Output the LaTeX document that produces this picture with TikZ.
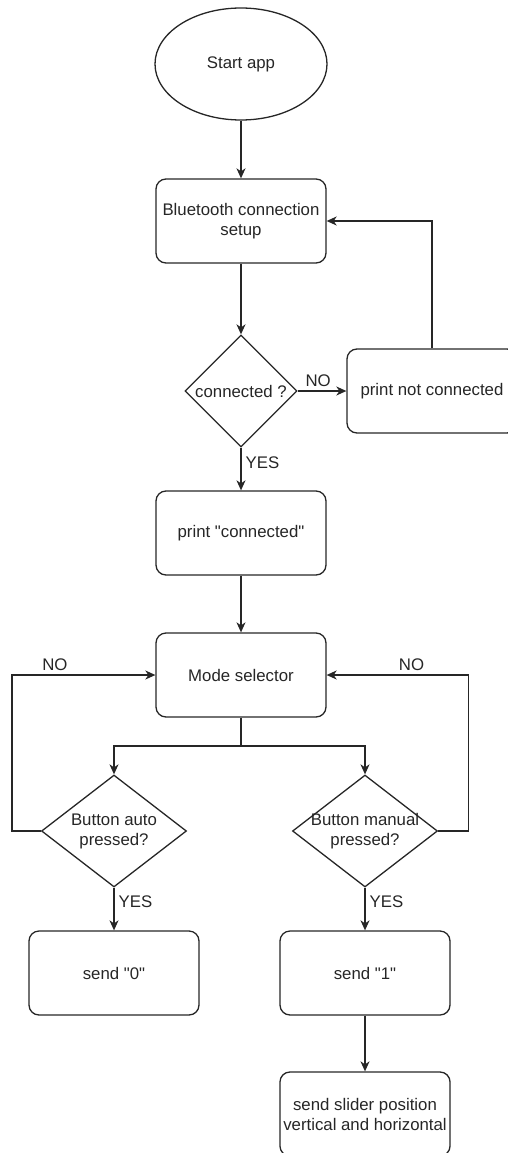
\documentclass[tikz,border=0pt]{standalone}
\usepackage{fontspec}
\setmainfont{Liberation Sans}
\usetikzlibrary{shapes.geometric}
\usetikzlibrary{arrows.meta}

\newcommand{\dq}[1]{\textquotedbl#1\textquotedbl}

\tikzset{
  stepbox/.style={draw, rounded corners=10pt, minimum width=170pt, minimum height=84pt, align=center},
  startnode/.style={draw, ellipse, minimum width=172pt, minimum height=112pt},
  decision/.style={draw, diamond, inner sep=0pt, minimum width=#1, minimum height=112pt},
  decision/.default=112pt,
  flow/.style={-{Stealth[length=10pt,width=9pt,inset=3pt]}},
  answer/.style={inner sep=4pt}
}

\begin{document}
\begin{tikzpicture}[x=1pt, y=-1pt, line width=1.3pt, color=black!85, font=\fontsize{16.8}{20}\selectfont]
            \useasboundingbox (0,0) rectangle (507,1153);

            % Main column
            \node[startnode] (start) at (241,64) {Start app};
            \node[stepbox] (bt) at (241,221) {Bluetooth connection\\setup};
            \node[decision, label=center:{connected ?}] (conn) at (241,391) {};
            \node[stepbox] (notconn) at (432,391) {print not connected};
            \node[stepbox] (printc) at (241,533) {print \dq{connected}};
            \node[stepbox] (mode) at (241,675) {Mode selector};
            \coordinate (split) at (241,746);

            % Button branches
            \node[decision=145pt, label={[align=center]center:Button auto\\pressed?}] (auto) at (114,831) {};
            \node[decision=145pt, label={[align=center]center:Button manual\\pressed?}] (manual) at (365,831) {};
            \node[stepbox] (send0) at (114,973) {send \dq{0}};
            \node[stepbox] (send1) at (365,973) {send \dq{1}};
            \node[stepbox] (slider) at (365,1114) {send slider position\\vertical and horizontal};

            % Connectors
            \draw[flow] (start) -- (bt);
            \draw[flow] (bt) -- (conn);
            \draw[flow] (conn) -- node[answer, above, pos=0.42] {NO} (notconn);
            \draw[flow] (notconn.north) |- (bt.east);
            \draw[flow] (conn) -- node[answer, right, pos=0.35] {YES} (printc);
            \draw[flow] (printc) -- (mode);
            \draw (mode) -- (split);
            \draw[flow] (split) -| (auto);
            \draw[flow] (split) -| (manual);
            \draw[flow] (auto.west) -- ++(-29,0) |- node[answer, above, pos=0.65] {NO} (mode.west);
            \draw[flow] (manual.east) -- ++(30,0) |- node[answer, above, pos=0.7] {NO} (mode.east);
            \draw[flow] (auto) -- node[answer, right, pos=0.34] {YES} (send0);
            \draw[flow] (manual) -- node[answer, right, pos=0.34] {YES} (send1);
            \draw[flow] (send1) -- (slider);
        \end{tikzpicture}
\end{document}
